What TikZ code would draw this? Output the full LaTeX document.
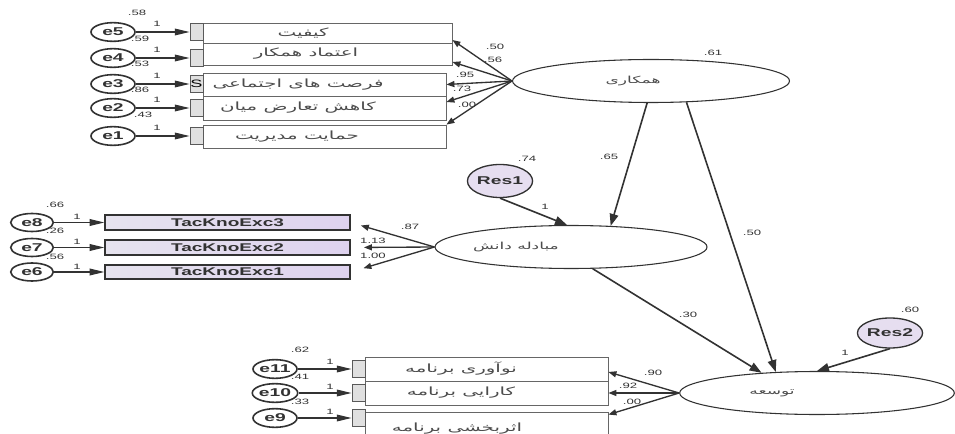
\documentclass[tikz,border=0pt]{standalone}
\usepackage{fontspec}
\setmainfont[FakeStretch=1.7]{Liberation Sans}
\newfontfamily\fa[Script=Arabic,FakeStretch=1.75]{DejaVu Sans}
\usetikzlibrary{arrows.meta,shapes.geometric}
\TeXXeTstate=1
\definecolor{lav}{RGB}{230,222,240}
\definecolor{lavL}{RGB}{230,227,238}
\definecolor{lavR}{RGB}{222,210,238}
\definecolor{ink}{RGB}{50,50,50}
\tikzset{
 errv/.style={ellipse, draw=ink, line width=1.2pt, fill=white, minimum width=33pt, minimum height=14pt, inner sep=0pt, font=\bfseries\fontsize{8.5}{9}\selectfont, text=ink},
 resv/.style={ellipse, draw=ink, line width=1pt, fill=lav, inner sep=0pt, font=\bfseries\fontsize{8.5}{9}\selectfont, text=ink},
 lat/.style={ellipse, draw=ink, line width=0.8pt, fill=white, minimum width=206pt, minimum height=32.25pt, inner sep=0pt},
 obs/.style={rectangle, draw=black!60, line width=0.6pt, fill=white, inner sep=0pt},
 sq/.style={rectangle, draw=black!65, line width=0.7pt, fill=black!12, minimum width=9.75pt, minimum height=12.75pt, inner sep=0pt},
 tac/.style={rectangle, draw=ink, line width=0.9pt, left color=lavL, right color=lavR, minimum width=183.75pt, inner sep=0pt, font=\bfseries\fontsize{8.4}{9}\selectfont, text=ink},
 ptxt/.style={inner sep=0pt, font=\fa\fontsize{8.5}{9}\selectfont, text=black!70},
 ltxt/.style={inner sep=0pt, font=\fa\fontsize{7.3}{8}\selectfont, text=black!70},
 num/.style={font=\fontsize{5.8}{6}\selectfont, text=ink, inner sep=0pt},
 pa/.style={-{Triangle[length=9pt,width=6.5pt]}, line width=1.2pt, draw=ink},
 ea/.style={-{Triangle[length=11pt,width=5pt]}, line width=0.9pt, draw=ink},
 la/.style={-{Triangle[length=6pt,width=4.5pt]}, line width=1pt, draw=ink},
}
\begin{document}
\begin{tikzpicture}[x=0.75pt,y=-0.75pt]
\useasboundingbox (0,0) rectangle (955,434);
% ---------- top indicators ----------
\node[obs, minimum width=186.75pt, minimum height=15pt] (b5) at (327.5,33) {};
\node[obs, minimum width=186.75pt, minimum height=16.5pt] (b4) at (327.5,54) {};
\node[obs, minimum width=182.25pt, minimum height=17.25pt] (b3) at (324.5,84.5) {};
\node[obs, minimum width=182.25pt, minimum height=18pt] (b2) at (324.5,108) {};
\node[obs, minimum width=182.25pt, minimum height=17.25pt] (b1) at (324.5,136.5) {};
\node[ptxt] (tb5) at (303,33) {\beginR کیفیت\endR};
\node[ptxt] (tb4) at (306,54) {\beginR اعتماد همکار\endR};
\node[ptxt] (tb3) at (298,84.5) {\beginR فرصت های اجتماعی\endR};
\node[ptxt] (tb2) at (298,108) {\beginR کاهش تعارض میان\endR};
\node[ptxt] (tb1) at (297,136.5) {\beginR حمایت مدیریت\endR};
\node[sq] (s5) at (196.5,32) {};
\node[sq] (s4) at (196.5,58) {};
\node[sq, font=\fontsize{8}{8}\selectfont] (s3) at (196.5,84) {S};
\node[sq] (s2) at (196.5,108) {};
\node[sq] (s1) at (196.5,136) {};
\node[errv] (e5) at (113,32) {e5};
\node[errv] (e4) at (113,58) {e4};
\node[errv] (e3) at (113,84) {e3};
\node[errv] (e2) at (113,108) {e2};
\node[errv] (e1) at (113,136) {e1};
\foreach \i in {5,4,3,2,1} {\draw[ea] (e\i) -- (s\i);}
\node[num] (v5) at (137,13) {.58};
\node[num] (v4) at (140,39) {.59};
\node[num] (v3) at (140,64) {.53};
\node[num] (v2) at (140,90) {.86};
\node[num] (v1) at (143,115) {.43};
\node[num] (o5) at (157,24) {1};
\node[num] (o4) at (157,50) {1};
\node[num] (o3) at (157,76) {1};
\node[num] (o2) at (157,100) {1};
\node[num] (o1) at (157,128) {1};
% ---------- latent: hamkari ----------
\node[lat, minimum width=207.75pt] (ham) at (651,81) {};
\node[ltxt] (tham) at (633,81) {\beginR همکاری\endR};
\node[num] (vham) at (713,53) {.61};
\draw[la] (ham.west) -- ([yshift=-5.25pt]b5.east);
\draw[la] (ham.west) -- ([yshift=-6pt]b4.east);
\draw[la] (ham.west) -- (b3.east);
\draw[la] (ham.west) -- ([yshift=4.5pt]b2.east);
\draw[la] (ham.west) -- (b1.north east);
\node[num] (l5) at (495,47) {.50};
\node[num] (l4) at (493,60) {.56};
\node[num] (l3) at (465,75) {.95};
\node[num] (l2) at (462,89) {.73};
\node[num] (l1) at (467,105) {.00};
% ---------- tacit knowledge ----------
\node[tac, minimum height=11.25pt] (t3) at (227.5,222.5) {TacKnoExc3};
\node[tac, minimum height=11.25pt] (t2) at (227.5,247.5) {TacKnoExc2};
\node[tac, minimum height=10.5pt] (t1) at (227.5,272) {TacKnoExc1};
\node[errv, minimum width=32pt, minimum height=13.5pt] (e8) at (32,222.5) {e8};
\node[errv, minimum width=32pt, minimum height=13.5pt] (e7) at (32,247.5) {e7};
\node[errv, minimum width=32pt, minimum height=13.5pt] (e6) at (32,272) {e6};
\draw[ea] (e8) -- (t3);
\draw[ea] (e7) -- (t2);
\draw[ea] (e6) -- (t1);
\node[num] (v8) at (55,205) {.66};
\node[num] (v7) at (55,231) {.26};
\node[num] (v6) at (55,257) {.56};
\node[num] (o8) at (77,217) {1};
\node[num] (o7) at (77,242) {1};
\node[num] (o6) at (77,267) {1};
\node[lat, minimum width=204pt] (mob) at (571,247) {};
\node[ltxt] (tmob) at (516,247) {\beginR مبادله دانش\endR};
\draw[la, shorten >=8pt] (mob.west) -- (t3.east);
\draw[la, shorten >=10pt] (mob.west) -- (t2.east);
\draw[la, shorten >=10pt] (mob.west) -- (t1.east);
\node[num] (l8) at (410,227) {.87};
\node[num] (l7) at (373,241) {1.13};
\node[num] (l6) at (373,256) {1.00};
% Res1
\node[resv, minimum width=48pt, minimum height=24.75pt] (r1) at (500,181) {Res1};
\node[num] (vr1) at (527,159) {.74};
\draw[pa] (r1.south) -- ([xshift=-3pt]mob.north);
\node[num] (or1) at (545,207) {1};
% ---------- latent: tose ----------
\node[lat, minimum width=206pt] (tos) at (817,393) {};
\node[ltxt] (ttos) at (772,393) {\beginR توسعه\endR};
\draw[pa] (ham.-100) -- (mob.28);
\node[num] (g1) at (609,157) {.65};
\draw[pa] (ham.-31.5) -- (tos.153);
\node[num] (g2) at (752,233) {.50};
\draw[pa] (mob.-45) -- (tos.160);
\node[num] (g3) at (688,315) {.30};
\node[resv, minimum width=42.75pt, minimum height=22.5pt] (r2) at (890,333) {Res2};
\node[num] (vr2) at (910,310) {.60};
\draw[pa] (r2.south) -- (tos.north);
\node[num] (or2) at (845,353) {1};
% ---------- bottom indicators ----------
\node[obs, minimum width=182.25pt, minimum height=18pt] (p1) at (486.5,369) {};
\node[obs, minimum width=182.25pt, minimum height=18pt] (p2) at (486.5,393) {};
\node[obs, minimum width=182.25pt, minimum height=21pt] (p3) at (486.5,426) {};
\node[ptxt] (tp1) at (461,369) {\beginR نوآوری برنامه\endR};
\node[ptxt] (tp2) at (461,393) {\beginR کارایی برنامه\endR};
\node[ptxt] (tp3) at (457,429) {\beginR اثربخشی برنامه\endR};
\node[sq] (q1) at (358.5,369) {};
\node[sq] (q2) at (358.5,393) {};
\node[sq] (q3) at (358.5,418) {};
\node[errv] (e11) at (275,369) {e11};
\node[errv] (e10) at (275,393) {e10};
\node[errv] (e9) at (275,418) {e9};
\draw[ea] (e11) -- (q1);
\draw[ea] (e10) -- (q2);
\draw[ea] (e9) -- (q3);
\node[num] (v11) at (300,350) {.62};
\node[num] (v10) at (300,377) {.41};
\node[num] (v9) at (300,402) {.33};
\node[num] (o11) at (330,362) {1};
\node[num] (o10) at (330,387) {1};
\node[num] (o9) at (330,412) {1};
\draw[la] (tos.west) -- ([yshift=-2.25pt]p1.east);
\draw[la] (tos.west) -- (p2.east);
\draw[la] (tos.west) -- ([yshift=-2.25pt]p3.north east);
\node[num] (l11) at (653,373) {.90};
\node[num] (l10) at (628,386) {.92};
\node[num] (l9) at (632,402) {.00};
\end{tikzpicture}
\end{document}
